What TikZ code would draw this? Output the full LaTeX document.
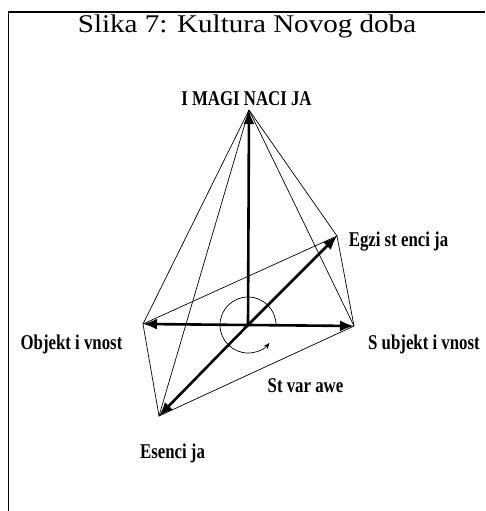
\documentclass[tikz,border=0pt]{standalone}
\usepackage{fontspec}
\setmainfont{Liberation Serif}
\newfontfamily\titlefont{Liberation Serif}[FakeStretch=1.14]
\newfontfamily\lblfont{Liberation Serif}[FakeStretch=0.8]
\usetikzlibrary{arrows.meta}

\begin{document}
\begin{tikzpicture}[x=1pt, y=1pt,
    axis/.style={line width=2.6pt, -{Latex[length=14pt,width=11pt]}},
    edge/.style={line width=0.7pt},
    lbl/.style={anchor=base, inner sep=0pt, font=\lblfont\bfseries\fontsize{21}{21}\selectfont}]
        \useasboundingbox (0,0) rectangle (485,511);
        % frame
        \draw[line width=1.6pt] (8.5,0) -- (8.5,499) -- (485,499);
        \node[anchor=base, inner sep=0pt, font=\titlefont\fontsize{25.5}{25.5}\selectfont] (title) at (247,478) {Slika 7: Kultura Novog doba};

        % corners of the pyramid
        \coordinate (O) at (248,186);
        \coordinate (I) at (249,401);
        \coordinate (Obj) at (143,187);
        \coordinate (Subj) at (354,185);
        \coordinate (Egz) at (337,275);
        \coordinate (Es) at (159,95);

        % thin edges
        \draw[edge] (I) -- (Obj);
        \draw[edge] (I) -- (Es);
        \draw[edge] (I) -- (Subj);
        \draw[edge] (I) -- (Egz);
        \draw[edge] (Obj) -- (Egz) -- (Subj) -- (Es) -- cycle;

        % axes
        \draw[axis] (O) -- (I);
        \draw[axis] (O) -- (Obj);
        \draw[axis] (O) -- (Subj);
        \draw[axis] (O) -- (Egz);
        \draw[axis] (O) -- (Es);

        % rotation
        \draw[edge, -{Stealth[length=6pt,width=5pt]}] (O) ++(28,0) arc[start angle=0, end angle=320, radius=28];

        % labels
        \node[lbl] (lblI) at (246.5,405) {I MAGI NACI JA};
        \node[lbl] (lblEgz) at (398.5,264) {Egzi st enci ja};
        \node[lbl] (lblObj) at (71.5,161) {Objekt i vnost};
        \node[lbl] (lblSubj) at (424,161) {S ubjekt i vnost};
        \node[lbl] (lblStv) at (305.5,118) {St var awe};
        \node[lbl] (lblEs) at (172.5,52) {Esenci ja};
      \end{tikzpicture}
\end{document}
